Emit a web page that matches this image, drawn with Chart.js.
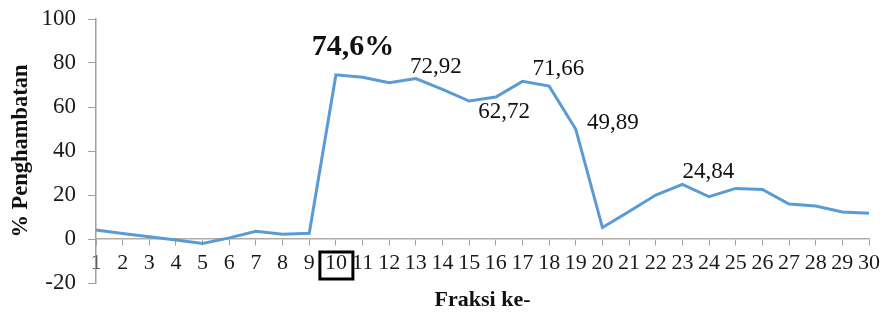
<!DOCTYPE html>
<html>
<head>
<meta charset="utf-8">
<script src="https://cdn.jsdelivr.net/npm/chart.js@4/dist/chart.umd.min.js"></script>
<style>
  html, body { margin: 0; padding: 0; background: #fff; }
  #wrap { width: 885px; height: 313px; position: relative; }
</style>
</head>
<body>
<div id="wrap"><canvas id="c" width="885" height="313"></canvas></div>
<script>
const categories = ["1","2","3","4","5","6","7","8","9","10","11","12","13","14","15","16","17","18","19","20","21","22","23","24","25","26","27","28","29","30"];
const inhibition = [4.1, 2.5, 1.0, -0.5, -2.0, 0.5, 3.5, 2.2, 2.6, 74.6, 73.5, 71.0, 72.92, 68.0, 62.72, 64.5, 71.66, 69.5, 49.89, 5.2, 12.5, 20.0, 24.84, 19.2, 23.0, 22.5, 15.9, 15.0, 12.3, 11.7];
const yTicks = [-20, 0, 20, 40, 60, 80, 100];
const labelledPoints = [9, 12, 14, 16, 18, 22];
const highlightedCategory = 9;

const FONT = "'Liberation Serif', 'Times New Roman', serif";
const labelStyle = {
  9:  { dx: 17, dy: -28, font: "bold 30px " + FONT, suffix: "%" },
  12: { dx: 20, dy: -12, font: "23px " + FONT, suffix: "" },
  14: { dx: 35, dy: 11,  font: "23px " + FONT, suffix: "" },
  16: { dx: 36, dy: -12, font: "23px " + FONT, suffix: "" },
  18: { dx: 37, dy: -6,  font: "23px " + FONT, suffix: "" },
  22: { dx: 26, dy: -12, font: "23px " + FONT, suffix: "" }
};

const annotPlugin = {
  id: 'annot',
  afterDatasetsDraw(chart) {
    const ctx = chart.ctx;
    const meta = chart.getDatasetMeta(0);
    ctx.save();
    ctx.fillStyle = '#111';
    ctx.textAlign = 'center';
    ctx.textBaseline = 'middle';
    labelledPoints.forEach(i => {
      const p = meta.data[i];
      const s = labelStyle[i];
      ctx.font = s.font;
      const txt = String(inhibition[i]).replace('.', ',') + s.suffix;
      ctx.fillText(txt, p.x + s.dx, p.y + s.dy);
    });
    const xs = chart.scales.x;
    const ys = chart.scales.y;
    const cx = xs.getPixelForValue(highlightedCategory);
    const y0 = ys.getPixelForValue(0);
    ctx.strokeStyle = '#000';
    ctx.lineWidth = 3;
    ctx.strokeRect(cx - 16, y0 + 13, 33, 27);
    ctx.restore();
  }
};

new Chart(document.getElementById('c'), {
  type: 'line',
  data: {
    labels: categories,
    datasets: [{
      data: inhibition,
      borderColor: '#5B9BD5',
      borderWidth: 3,
      pointRadius: 0,
      tension: 0,
      fill: false
    }]
  },
  options: {
    responsive: false,
    animation: false,
    devicePixelRatio: 1,
    layout: { padding: { top: 19, right: 16, left: 0, bottom: 30 } },
    plugins: { legend: { display: false }, tooltip: { enabled: false } },
    scales: {
      x: {
        type: 'category',
        position: { y: 0 },
        offset: false,
        grid: { drawOnChartArea: false, drawTicks: true, tickLength: 6, color: '#a0a0a0', lineWidth: 1 },
        border: { display: true, color: '#b4aca4', width: 1.5 },
        ticks: {
          autoSkip: false, maxRotation: 0, minRotation: 0,
          color: '#1a1a1a', font: { family: FONT, size: 22 }, padding: 5
        },
        title: {
          display: true, text: 'Fraksi ke-', color: '#111',
          font: { family: FONT, size: 22, weight: 'bold' }, padding: { top: 6, bottom: 0 }
        }
      },
      y: {
        min: -20, max: 100,
        afterFit(scale) { scale.width = 96; scale.paddingTop = 0; scale.paddingBottom = 0; },
        afterBuildTicks(scale) { scale.ticks = yTicks.map(v => ({ value: v })); },
        grid: { drawOnChartArea: false, drawTicks: true, tickLength: 8, color: '#a0a0a0' },
        border: { display: true, color: '#a0a0a0', width: 1.5 },
        ticks: { color: '#1a1a1a', font: { family: FONT, size: 23 }, padding: 12 },
        title: {
          display: true, text: '% Penghambatan', color: '#111',
          font: { family: FONT, size: 22.5, weight: 'bold' }, padding: { top: 8, bottom: 0 }
        }
      }
    }
  },
  plugins: [annotPlugin]
});
</script>
</body>
</html>
